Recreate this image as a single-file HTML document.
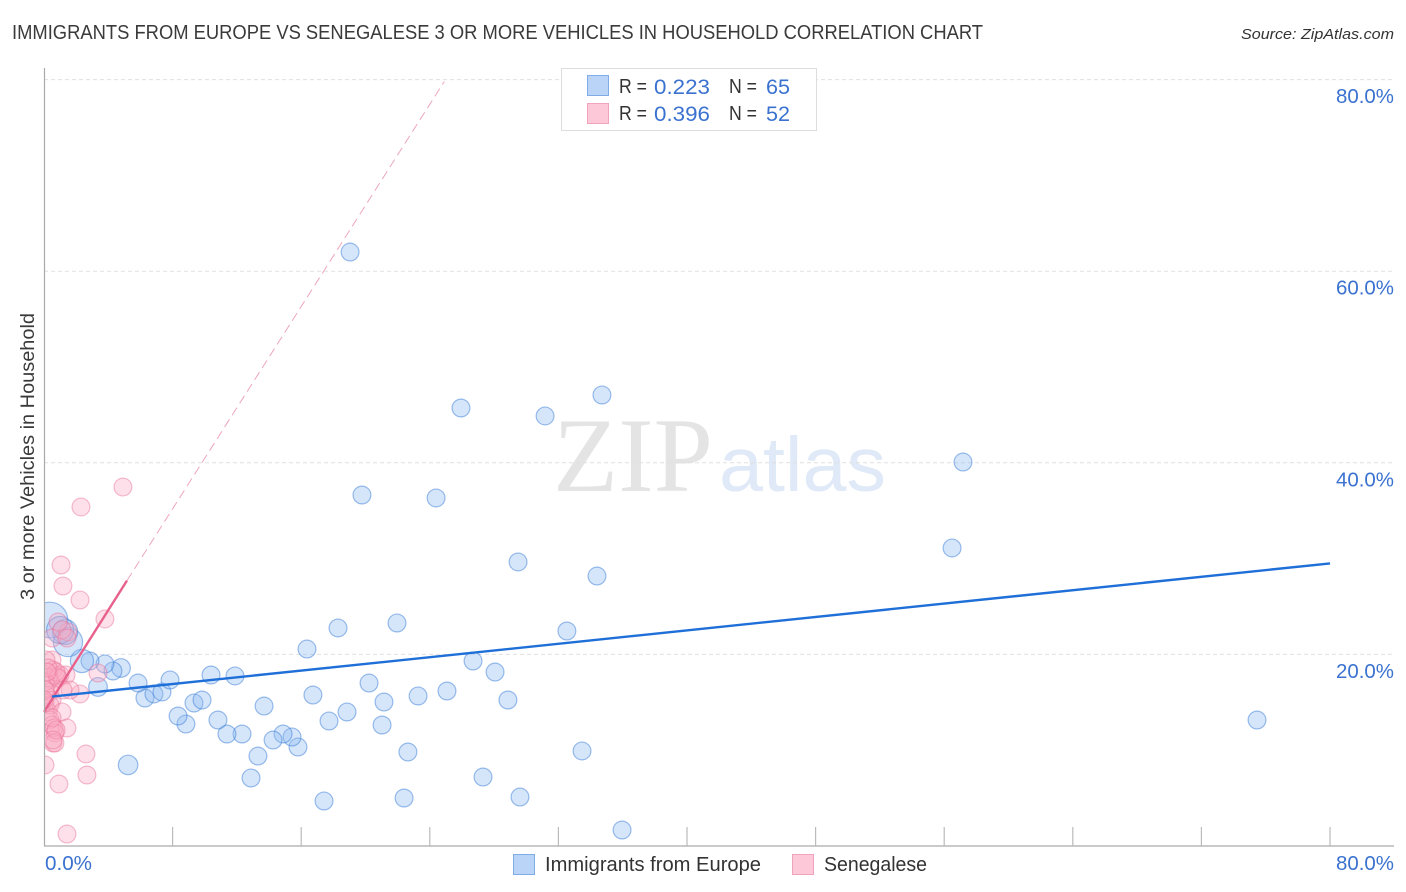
<!DOCTYPE html>
<html>
<head>
<meta charset="utf-8">
<title>Immigrants from Europe vs Senegalese chart</title>
<style>
html,body{margin:0;padding:0;background:#fff}
svg{display:block;font-family:"Liberation Sans",sans-serif}
</style>
</head>
<body>
<svg id="chart" width="1406" height="892" viewBox="0 0 1406 892" xmlns="http://www.w3.org/2000/svg">
  <defs>
    <clipPath id="plot-clip"><rect x="45" y="68" width="1349" height="778"/></clipPath>
  </defs>
  <rect width="1406" height="892" fill="#fff"/>
  <text x="12" y="39" font-size="20" fill="#3a3a3a" textLength="971" lengthAdjust="spacingAndGlyphs">IMMIGRANTS FROM EUROPE VS SENEGALESE 3 OR MORE VEHICLES IN HOUSEHOLD CORRELATION CHART</text>
  <text x="1241" y="39" font-size="15" font-style="italic" fill="#333" textLength="153" lengthAdjust="spacingAndGlyphs">Source: ZipAtlas.com</text>
  <text x="553" y="491" font-family="'Liberation Serif',serif" font-size="106" fill="#e4e4e4" textLength="160" lengthAdjust="spacingAndGlyphs">ZIP</text>
  <text x="719" y="491" font-size="77" fill="#dfe9f7" textLength="167" lengthAdjust="spacingAndGlyphs">atlas</text>
  <g id="grid"></g>
  <g id="marks" clip-path="url(#plot-clip)"></g>
  <g id="trends"></g>
  <line x1="44.5" y1="68" x2="44.5" y2="846" stroke="#aaa" stroke-width="1.2"/>
  <line x1="44" y1="846" x2="1394" y2="846" stroke="#aaa" stroke-width="1.2"/>
  <g id="ticks"></g>
  <text transform="translate(34,600) rotate(-90)" font-size="19" fill="#3a3a3a" textLength="287" lengthAdjust="spacingAndGlyphs">3 or more Vehicles in Household</text>

  <g>
    <rect x="561.5" y="68.5" width="255" height="62" fill="#fff" stroke="#ddd" stroke-width="1"/>
    <rect x="587.5" y="75.5" width="21" height="20" fill="#b9d4f7" stroke="#7fabe6"/>
    <rect x="587.5" y="103.5" width="21" height="20" fill="#fdc8d8" stroke="#f2a3bc"/>
    <text x="619" y="93" font-size="20" fill="#333" textLength="28" lengthAdjust="spacingAndGlyphs">R =</text>
    <text x="654" y="94" font-size="21" fill="#3b72d0" textLength="56" lengthAdjust="spacingAndGlyphs">0.223</text>
    <text x="729" y="93" font-size="20" fill="#333" textLength="28" lengthAdjust="spacingAndGlyphs">N =</text>
    <text x="766" y="94" font-size="21" fill="#3b72d0" textLength="24" lengthAdjust="spacingAndGlyphs">65</text>
    <text x="619" y="120" font-size="20" fill="#333" textLength="28" lengthAdjust="spacingAndGlyphs">R =</text>
    <text x="654" y="121" font-size="21" fill="#3b72d0" textLength="56" lengthAdjust="spacingAndGlyphs">0.396</text>
    <text x="729" y="120" font-size="20" fill="#333" textLength="28" lengthAdjust="spacingAndGlyphs">N =</text>
    <text x="766" y="121" font-size="21" fill="#3b72d0" textLength="24" lengthAdjust="spacingAndGlyphs">52</text>
  </g>

  <g>
    <rect x="513.5" y="854.5" width="21" height="20" fill="#b9d4f7" stroke="#7fabe6"/>
    <text x="545" y="871" font-size="20" fill="#333" textLength="216" lengthAdjust="spacingAndGlyphs">Immigrants from Europe</text>
    <rect x="792.5" y="854.5" width="21" height="20" fill="#fdc8d8" stroke="#f2a3bc"/>
    <text x="824" y="871" font-size="20" fill="#333" textLength="103" lengthAdjust="spacingAndGlyphs">Senegalese</text>
  </g>
</svg>
<script>
const yTickValues = [20, 40, 60, 80];
const xTickValues = [0, 8, 16, 24, 32, 40, 48, 56, 64, 72, 80];
const xLabelValues = [0, 80];

const europeX = [19.04,25.94,34.71,31.17,57.17,19.78,24.39,56.49,29.49,34.40,75.46,21.96,18.29,32.53,16.36,26.69,28.06,20.22,25.07,23.27,21.15,28.86,16.73,18.85,17.73,21.03,22.64,33.47,27.31,29.61,22.40,17.42,35.96,12.88,13.31,15.80,15.43,14.87,14.25,12.32,11.38,10.82,8.83,8.34,9.33,9.83,6.28,6.84,7.34,7.84,5.85,10.39,11.88,13.69,5.23,4.79,4.29,3.79,3.36,2.86,2.36,1.49,1.31,0.37,1.00];
const europeY = [62.0,45.72,47.08,44.89,40.08,36.64,36.33,31.11,29.65,28.18,13.15,23.28,22.76,22.44,20.56,19.31,18.16,17.01,16.18,15.66,15.03,15.24,15.76,13.99,13.05,12.63,9.81,9.92,7.20,5.11,5.01,4.70,1.67,7.10,9.39,10.33,11.38,11.69,11.06,11.69,11.69,13.15,12.73,13.57,14.93,15.24,15.45,15.87,16.08,17.33,17.01,17.85,17.75,14.61,8.46,18.58,18.27,19.0,16.6,19.31,19.31,21.29,22.34,23.59,22.55];
const europeWeight = [1,1,1,1,1,1,1,1,1,1,1,1,1,1,1,1,1,1,1,1,1,1,1,1,1,1,1,1,1,1,1,1,1,1,1,1,1,1,1,1,1,1,1,1,1,1,1,1,1,1,1,1,1,1,1.2,1.1,1,1,1.1,1,1.7,2.7,2,4,2.3];

const senegalX = [4.91,2.30,1.06,1.18,2.24,3.79,1.49,0.87,0.50,1.12,1.43,0.50,0.56,0.81,0.37,1.00,0.25,1.37,0.12,0.37,3.36,2.24,1.62,0.25,0.50,0.06,0.37,1.12,0.37,0.50,1.43,0.62,0.68,0.56,0.68,2.61,2.67,0.93,0.06,1.43,0.06,0.75,0.12,0.87,0.25,0.06,0,0.50,0.75,0.56,1.18,0.19];
const senegalY = [37.47,35.39,29.33,27.14,25.68,23.70,22.34,23.38,21.71,22.55,21.71,19.42,18.37,17.75,17.33,17.85,17.54,17.85,15.76,16.08,18.06,15.87,16.28,13.99,15.24,14.93,14.72,13.99,13.15,12.63,12.32,12.32,11.80,10.75,10.75,9.60,7.41,6.47,8.46,1.25,17.12,18.16,19.42,17.54,18.58,16.28,15.24,13.36,12.11,11.06,16.28,18.16];

const europeTrendX = [0.5, 80];
const europeTrendY = [15.6, 29.5];
const senegalTrendX = [0, 5.16];
const senegalTrendY = [14, 27.7];
const senegalDashX = [5.16, 24.9];
const senegalDashY = [27.7, 79.8];

const NS = 'http://www.w3.org/2000/svg';
function xScale(v) { return 44 + v * 16.075; }
function yScale(v) { return 846 - v * 9.58; }
function radius(w) { return 8.9 * Math.sqrt(w); }
function fmt(v) { return v.toFixed(1) + '%'; }

const grid = document.getElementById('grid');
const ticks = document.getElementById('ticks');
const marks = document.getElementById('marks');
const trends = document.getElementById('trends');

yTickValues.forEach(function (v) {
  const g = document.createElementNS(NS, 'line');
  
  
  g.setAttribute('x1', 44);
  g.setAttribute('x2', 1394);
  g.setAttribute('y1', yScale(v));
  g.setAttribute('y2', yScale(v));
  g.setAttribute('stroke', '#e0e0e0');
  g.setAttribute('stroke-width', '1');
  g.setAttribute('stroke-dasharray', '4 3');
  grid.appendChild(g);

  const t = document.createElementNS(NS, 'text');
  
  
  t.setAttribute('x', 1336);
  t.setAttribute('y', yScale(v) + 23.5);
  t.setAttribute('font-size', '20');
  t.setAttribute('fill', '#3b72d0');
  t.setAttribute('textLength', '58');
  t.setAttribute('lengthAdjust', 'spacingAndGlyphs');
  t.textContent = fmt(v);
  ticks.appendChild(t);
});

xTickValues.forEach(function (v) {
  if (v === 0) return;
  const l = document.createElementNS(NS, 'line');
  
  
  l.setAttribute('x1', xScale(v));
  l.setAttribute('x2', xScale(v));
  l.setAttribute('y1', 827);
  l.setAttribute('y2', 846);
  l.setAttribute('stroke', '#bbb');
  l.setAttribute('stroke-width', '1.2');
  ticks.appendChild(l);
});

xLabelValues.forEach(function (v) {
  const t = document.createElementNS(NS, 'text');
  
  
  t.setAttribute('x', v === 0 ? 45 : 1336);
  t.setAttribute('y', 870);
  t.setAttribute('font-size', '20');
  t.setAttribute('fill', '#3b72d0');
  t.setAttribute('textLength', v === 0 ? '47' : '58');
  t.setAttribute('lengthAdjust', 'spacingAndGlyphs');
  t.textContent = fmt(v);
  ticks.appendChild(t);
});

europeX.forEach(function (v, i) {
  const c = document.createElementNS(NS, 'circle');
  
  
  c.setAttribute('cx', xScale(v));
  c.setAttribute('cy', yScale(europeY[i]));
  c.setAttribute('r', radius(europeWeight[i]));
  c.setAttribute('fill', 'rgba(140,185,242,0.36)');
  c.setAttribute('stroke', 'rgba(60,125,215,0.5)');
  c.setAttribute('stroke-width', '1.2');
  marks.appendChild(c);
});

senegalX.forEach(function (v, i) {
  const c = document.createElementNS(NS, 'circle');
  
  
  c.setAttribute('cx', xScale(v));
  c.setAttribute('cy', yScale(senegalY[i]));
  c.setAttribute('r', 8.9);
  c.setAttribute('fill', 'rgba(250,170,195,0.36)');
  c.setAttribute('stroke', 'rgba(232,110,150,0.45)');
  c.setAttribute('stroke-width', '1.2');
  marks.appendChild(c);
});

const dash = document.createElementNS(NS, 'line');


dash.setAttribute('x1', xScale(senegalDashX[0]));
dash.setAttribute('y1', yScale(senegalDashY[0]));
dash.setAttribute('x2', xScale(senegalDashX[1]));
dash.setAttribute('y2', yScale(senegalDashY[1]));
dash.setAttribute('stroke', '#eda6bd');
dash.setAttribute('stroke-width', '1');
dash.setAttribute('stroke-dasharray', '9 5');
trends.appendChild(dash);

const pinkLine = document.createElementNS(NS, 'line');


pinkLine.setAttribute('x1', xScale(senegalTrendX[0]));
pinkLine.setAttribute('y1', yScale(senegalTrendY[0]));
pinkLine.setAttribute('x2', xScale(senegalTrendX[1]));
pinkLine.setAttribute('y2', yScale(senegalTrendY[1]));
pinkLine.setAttribute('stroke', '#e8608c');
pinkLine.setAttribute('stroke-width', '2.4');
trends.appendChild(pinkLine);

const blueLine = document.createElementNS(NS, 'line');


blueLine.setAttribute('x1', xScale(europeTrendX[0]));
blueLine.setAttribute('y1', yScale(europeTrendY[0]));
blueLine.setAttribute('x2', xScale(europeTrendX[1]));
blueLine.setAttribute('y2', yScale(europeTrendY[1]));
blueLine.setAttribute('stroke', '#1f6fd8');
blueLine.setAttribute('stroke-width', '2.4');
trends.appendChild(blueLine);
</script>
</body>
</html>
